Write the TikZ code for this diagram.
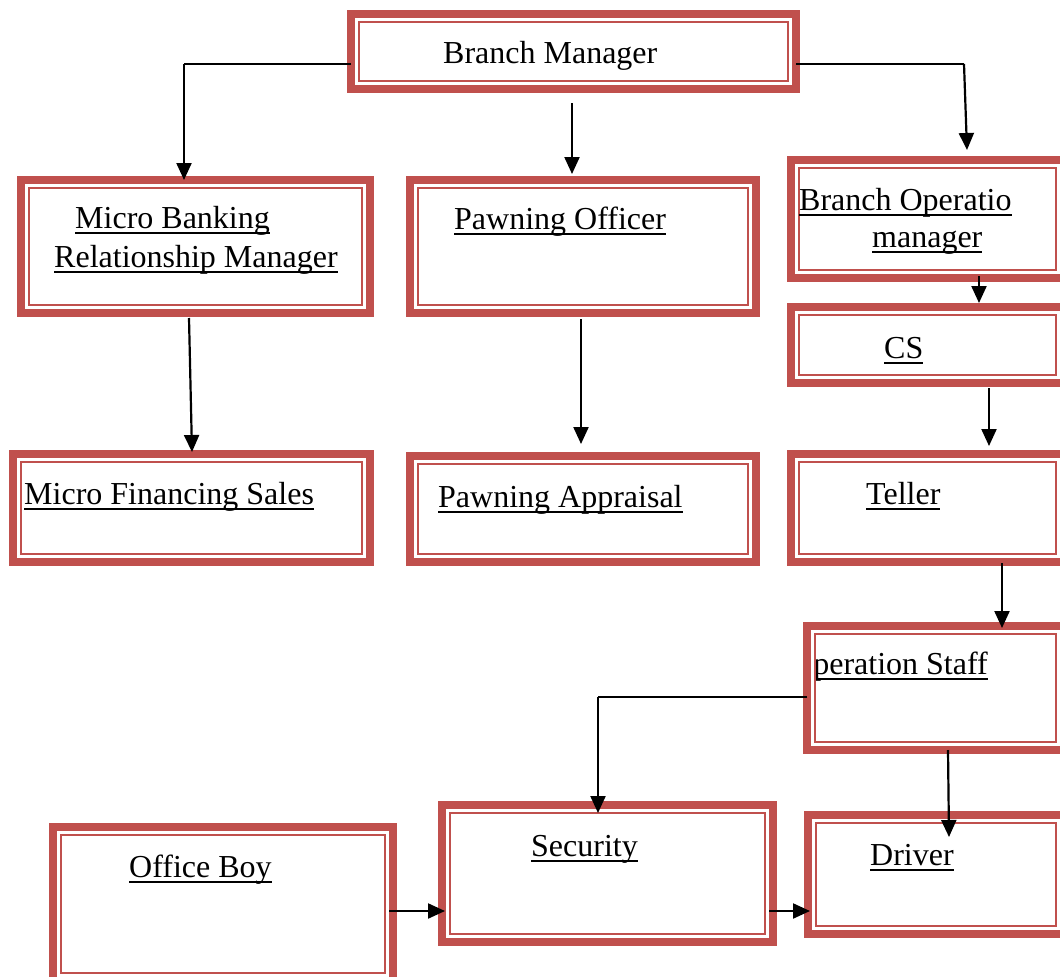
\documentclass[tikz,border=0pt]{standalone}
\usepackage{fontspec}
\setmainfont{Liberation Serif}
\usetikzlibrary{arrows.meta}
\definecolor{boxred}{HTML}{C0504D}
\newcommand\ulx[1]{\setbox0\hbox{#1}\rlap{\rule[-6pt]{\wd0}{1.8pt}}\box0}
\newcommand\mkbox[5]{%
  \pgfmathsetmacro\mkBx{(#2+#4)/2}\pgfmathsetmacro\mkBy{(#3+#5)/2}%
  \pgfmathsetmacro\mkBw{#4-#2-8}\pgfmathsetmacro\mkBh{#5-#3-8}%
  \node[rbox, minimum width=\mkBw pt, minimum height=\mkBh pt] (#1) at (\mkBx,\mkBy) {};}
\tikzset{
  rbox/.style={rectangle, draw=boxred, line width=8pt, fill=white, inner sep=0pt, outer sep=0pt,
    path picture={\draw[boxred, line width=2.2pt]
      ([xshift=7.8pt,yshift=-7.8pt]path picture bounding box.north west) rectangle
      ([xshift=-7.8pt,yshift=7.8pt]path picture bounding box.south east);}},
  txt/.style={anchor=base west, inner sep=0pt, font=\fontsize{32}{38}\selectfont},
  arr/.style={draw=black, line width=2.2pt, -{Triangle[length=17pt,width=15pt]}},
  thinl/.style={draw=black, line width=1.6pt}
}
\begin{document}
\begin{tikzpicture}[x=1pt,y=-1pt]
\useasboundingbox (0,0) rectangle (1060,977);
\clip (0,0) rectangle (1060,977);
\fill[white] (0,0) rectangle (1060,977);
% boxes
\mkbox{bm}{347}{10}{800}{93}
\mkbox{mbrm}{17}{176}{374}{317}
\mkbox{po}{406}{176}{760}{317}
\mkbox{bom}{787}{156}{1068}{282}
\mkbox{cs}{787}{303}{1068}{387}
\mkbox{mfs}{9}{450}{374}{566}
\mkbox{pa}{406}{452}{760}{566}
\mkbox{tel}{787}{450}{1068}{566}
\mkbox{os}{803}{622}{1068}{754}
\mkbox{sec}{438}{801}{777}{946}
\mkbox{ob}{49}{823}{397}{985}
\mkbox{drv}{804}{811}{1068}{938}
% texts
\node[txt] (bmt) at (443,63) {Branch Manager};
\node[txt] (mbrmt1) at (75,228) {\ulx{Micro Banking}};
\node[txt] (mbrmt2) at (54,267) {\ulx{Relationship Manager}};
\node[txt] (pot) at (454,229) {\ulx{Pawning Officer}};
\node[txt] (bomt1) at (799,210) {\ulx{Branch Operatio}};
\node[txt] (bomt2) at (872,247) {\ulx{manager}};
\node[txt] (cst) at (884,358) {\ulx{CS}};
\node[txt] (mfst) at (24,504) {\ulx{Micro Financing Sales}};
\node[txt] (pat) at (438,507) {\ulx{Pawning Appraisal}};
\node[txt] (telt) at (866,504) {\ulx{Teller}};
\begin{scope}
\clip ([xshift=9pt,yshift=-9pt]os.north west) rectangle ([xshift=-9pt,yshift=9pt]os.south east);
\node[txt] (ost) at (790,674) {\ulx{Operation Staff}};
\end{scope}
\node[txt] (sect) at (531,856) {\ulx{Security}};
\node[txt] (obt) at (129,877) {\ulx{Office Boy}};
\node[txt] (drvt) at (870,865) {\ulx{Driver}};
% helper coordinates
\coordinate (y64) at (0,64);
\coordinate (c1) at (572,103);
\coordinate (c2) at (189,318);
\coordinate (c3) at (581,319);
\coordinate (c4) at (979,276);
\coordinate (c5) at (989,388);
\coordinate (c6) at (1002,563);
\coordinate (y697) at (0,697);
\coordinate (y911) at (0,911);
% connectors
\draw[thinl] (bm.west |- y64) -- (184,64);
\draw[arr] (184,64) -- (mbrm.north -| 184,0);
\draw[arr] (c1) -- ([yshift=6pt]po.north -| c1);
\draw[thinl] (bm.east |- y64) -- (964,64);
\draw[arr] (964,64) -- ([yshift=10pt]bom.north -| 967,0);
\draw[arr] (c2) -- ([yshift=2pt]mfs.north -| 192,0);
\draw[arr] (c3) -- ([yshift=12pt]pa.north -| c3);
\draw[arr] (c4) -- ([yshift=4pt]cs.north -| c4);
\draw[arr] (c5) -- ([yshift=8pt]tel.north -| c5);
\draw[arr] (c6) -- ([yshift=-2pt]os.north -| c6);
\draw[thinl] (os.west |- y697) -- (598,697);
\draw[arr] (598,697) -- ([yshift=-8pt]sec.north -| 598,0);
\draw[arr] (os.south -| 948,0) -- ([yshift=-22pt]drv.north -| 949,0);
\draw[arr] ([xshift=-4pt]ob.east |- y911) -- ([xshift=3pt]sec.west |- y911);
\draw[arr] ([xshift=-4pt]sec.east |- y911) -- ([xshift=2pt]drv.west |- y911);
\end{tikzpicture}
\end{document}
